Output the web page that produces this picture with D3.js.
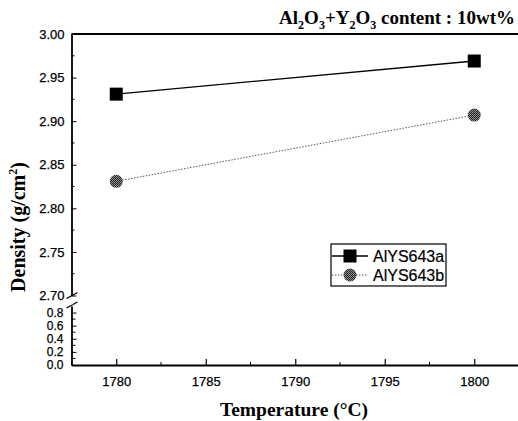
<!doctype html>
<meta charset="utf-8">
<style>
    body { margin: 0; background: #fff; }
    svg text { fill: #000; }
    .tick-label { font-family: "Liberation Sans", Arial, sans-serif; font-size: 13px; stroke: #000; stroke-width: 0.25px; }
    .small-label { font-size: 12px; }
    .title { font-family: "Liberation Serif", "Times New Roman", serif; font-weight: bold; }
</style>
<div id="chart"></div>
<script src="https://d3js.org/d3.v7.min.js"></script>
<script>

// data
let temperatures = [1780, 1800]
let seriesNames = ["AlYS643a", "AlYS643b"]
let densityA = [2.931, 2.969]
let densityB = [2.831, 2.907]

let xTicks = [1780, 1785, 1790, 1795, 1800]
let yTopTicks = [2.70, 2.75, 2.80, 2.85, 2.90, 2.95, 3.00]
let yBotTicks = [0.0, 0.2, 0.4, 0.6, 0.8]

let width = 518, height = 421

let svg = d3.select("#chart")
    .append("svg")
    .attr("width", width)
    .attr("height", height)

let axisX = 71.5, axisY = 365

let xScale = d3.scaleLinear().domain([1777.5, 1802.5]).range([axisX, 519])
let yTop = d3.scaleLinear().domain([2.70, 3.00]).range([295.5, 34])
let yBot = d3.scaleLinear().domain([0, 0.9]).range([axisY, 306])

// top frame line
svg.append("line")
    .attr("x1", axisX).attr("x2", 519)
    .attr("y1", yTop(3.0)).attr("y2", yTop(3.0))
    .attr("stroke", "#000").attr("stroke-width", 1.8)

// x axis, ticks pointing inward
let xAxis = d3.axisBottom(xScale)
    .tickValues(xTicks)
    .tickSizeInner(-6)
    .tickSizeOuter(0)
    .tickPadding(12)
    .tickFormat(d3.format("d"))
let gx = svg.append("g")
    .attr("transform", "translate(0," + axisY + ")")
    .call(xAxis)
gx.select(".domain").attr("stroke-width", 1.8)
gx.selectAll("text").attr("class", "tick-label")
gx.selectAll("line").attr("stroke-width", 1.2)
// minor x ticks
svg.append("g").selectAll("line")
    .data(d3.range(1777.5, 1802.6, 5))
    .join("line")
    .attr("x1", d => xScale(d)).attr("x2", d => xScale(d))
    .attr("y1", axisY).attr("y2", axisY - 3)
    .attr("stroke", "#000")

// upper y segment
let yAxisTop = d3.axisLeft(yTop)
    .tickValues(yTopTicks)
    .tickSizeInner(-5)
    .tickSizeOuter(0)
    .tickPadding(7)
    .tickFormat(d3.format(".2f"))
let gyt = svg.append("g")
    .attr("transform", "translate(" + axisX + ",0)")
    .call(yAxisTop)
gyt.select(".domain").attr("stroke-width", 1.8)
gyt.selectAll("text").attr("class", "tick-label")
svg.append("g").selectAll("line")
    .data(d3.range(2.725, 3.0, 0.05))
    .join("line")
    .attr("x1", axisX).attr("x2", axisX + 3)
    .attr("y1", d => yTop(d)).attr("y2", d => yTop(d))
    .attr("stroke", "#000")

// lower y segment
let yAxisBot = d3.axisLeft(yBot)
    .tickValues(yBotTicks)
    .tickSizeInner(-5)
    .tickSizeOuter(0)
    .tickPadding(8)
    .tickFormat(d3.format(".1f"))
let gyb = svg.append("g")
    .attr("transform", "translate(" + axisX + ",0)")
    .call(yAxisBot)
gyb.select(".domain").attr("stroke-width", 1.8)
gyb.selectAll("text").attr("class", "tick-label small-label")
svg.append("g").selectAll("line")
    .data(d3.range(0.1, 0.9, 0.2))
    .join("line")
    .attr("x1", axisX).attr("x2", axisX + 4)
    .attr("y1", d => yBot(d)).attr("y2", d => yBot(d))
    .attr("stroke", "#000")

// break marks
let breakG = svg.append("g").attr("stroke", "#000").attr("stroke-width", 1.4)
breakG.append("line")
    .attr("x1", axisX - 5).attr("y1", yTop(2.70) + 3)
    .attr("x2", axisX + 6).attr("y2", yTop(2.70) - 3)
breakG.append("line")
    .attr("x1", axisX - 5).attr("y1", yBot(0.9) + 2)
    .attr("x2", axisX + 6).attr("y2", yBot(0.9) - 4)
svg.append("rect")
    .attr("x", axisX - 1).attr("y", yTop(2.70) + 1.5)
    .attr("width", 2).attr("height", yBot(0.9) - yTop(2.70) - 3)
    .attr("fill", "#fff")

// dithered fill for the round markers
let defs = svg.append("defs")
let pat = defs.append("pattern")
    .attr("id", "dither")
    .attr("width", 2).attr("height", 2)
    .attr("patternUnits", "userSpaceOnUse")
pat.append("rect").attr("width", 2).attr("height", 2).attr("fill", "#222")
pat.append("rect").attr("width", 1).attr("height", 1).attr("fill", "#999")
pat.append("rect").attr("x", 1).attr("y", 1).attr("width", 1).attr("height", 1).attr("fill", "#888")

let lineGen = d3.line()
    .x((d, i) => xScale(temperatures[i]))
    .y(d => yTop(d))

// series b (dotted)
svg.append("path")
    .datum(densityB)
    .attr("d", lineGen)
    .attr("fill", "none")
    .attr("stroke", "#555")
    .attr("stroke-width", 1)
    .attr("stroke-dasharray", "1.5,1.5")
svg.append("g").selectAll("circle")
    .data(densityB)
    .join("circle")
    .attr("cx", (d, i) => xScale(temperatures[i]))
    .attr("cy", d => yTop(d))
    .attr("r", 6.5)
    .attr("fill", "url(#dither)")

// series a (solid)
svg.append("path")
    .datum(densityA)
    .attr("d", lineGen)
    .attr("fill", "none")
    .attr("stroke", "#000")
    .attr("stroke-width", 1.3)
svg.append("g").selectAll("rect")
    .data(densityA)
    .join("rect")
    .attr("x", (d, i) => xScale(temperatures[i]) - 6.5)
    .attr("y", d => yTop(d) - 6.5)
    .attr("width", 13).attr("height", 13)
    .attr("fill", "#000")

// legend
let legend = svg.append("g").attr("transform", "translate(331,244)")
legend.append("rect")
    .attr("width", 115).attr("height", 42)
    .attr("fill", "#fff").attr("stroke", "#000").attr("stroke-width", 1.2)
let rows = [12, 31]
legend.append("line").attr("x1", 1).attr("x2", 37).attr("y1", rows[0]).attr("y2", rows[0])
    .attr("stroke", "#000").attr("stroke-width", 1.3)
legend.append("rect").attr("x", 12.5).attr("y", rows[0] - 6.5).attr("width", 13).attr("height", 13).attr("fill", "#000")
legend.append("line").attr("x1", 1).attr("x2", 37).attr("y1", rows[1]).attr("y2", rows[1])
    .attr("stroke", "#555").attr("stroke-dasharray", "1.5,1.5")
legend.append("circle").attr("cx", 19).attr("cy", rows[1]).attr("r", 6.5).attr("fill", "url(#dither)")
legend.selectAll("text.leg")
    .data(seriesNames)
    .join("text")
    .attr("class", "leg")
    .attr("x", 42)
    .attr("y", (d, i) => rows[i] + 6)
    .style("font-family", "'Liberation Sans', Arial, sans-serif")
    .style("font-size", "16px")
    .style("stroke", "#000")
    .style("stroke-width", "0.2px")
    .text(d => d)

// title with subscripts
let title = svg.append("text")
    .attr("class", "title")
    .attr("x", 515).attr("y", 24)
    .attr("text-anchor", "end")
    .style("font-size", "19px")
let parts = [["Al", 0], ["2", 1], ["O", 0], ["3", 1], ["+Y", 0], ["2", 1], ["O", 0], ["3", 1], [" content : 10wt%", 0]]
parts.forEach((p, i) => {
    let prevSub = i > 0 && parts[i - 1][1]
    let t = title.append("tspan").text(p[0])
        .attr("dy", p[1] ? 5 : (prevSub ? -5 : 0))
    if (p[1]) t.style("font-size", "12px")
})

// axis titles
svg.append("text")
    .attr("class", "title")
    .attr("x", 294).attr("y", 416)
    .attr("text-anchor", "middle")
    .style("font-size", "19.5px")
    .text("Temperature (\u00B0C)")

let yTitle = svg.append("text")
    .attr("class", "title")
    .attr("transform", "translate(25,227) rotate(-90)")
    .attr("text-anchor", "middle")
    .style("font-size", "20px")
yTitle.append("tspan").text("Density (g/cm")
yTitle.append("tspan").text("2").attr("dy", -8).style("font-size", "12px")
yTitle.append("tspan").text(")").attr("dy", 8)

</script>
